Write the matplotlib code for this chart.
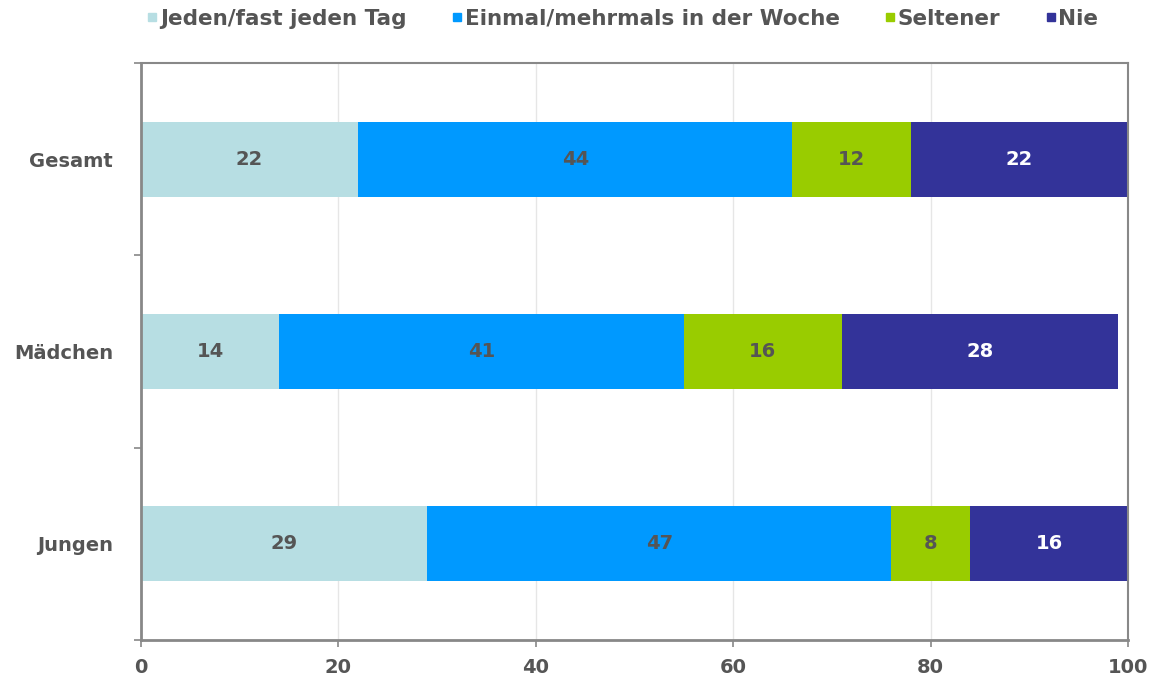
import matplotlib.pyplot as plt
from matplotlib.lines import Line2D

# data
groups = ["Gesamt", "Mädchen", "Jungen"]
series = ["Jeden/fast jeden Tag", "Einmal/mehrmals in der Woche", "Seltener", "Nie"]
jeden = [22, 14, 29]
woche = [44, 41, 47]
seltener = [12, 16, 8]
nie = [22, 28, 16]
x_ticks = [0, 20, 40, 60, 80, 100]

colors = ["#B7DEE3", "#0099FF", "#99CC00", "#333399"]
label_colors = ["#555555", "#555555", "#555555", "#FFFFFF"]
text_grey = "#555555"

fig = plt.figure(figsize=(11.51, 6.77), dpi=100)
ax = fig.add_axes([0.1225, 0.0547, 0.8575, 0.8523])

ypos = list(range(len(groups)))
left = [0] * len(groups)
for values, color, lc in zip([jeden, woche, seltener, nie], colors, label_colors):
    bars = ax.barh(ypos, values, left=left, height=0.39, color=color, zorder=2)
    for bar, v in zip(bars, values):
        ax.text(bar.get_x() + bar.get_width() / 2, bar.get_y() + bar.get_height() / 2,
                str(v), ha="center", va="center", fontsize=14, fontweight="bold",
                color=lc, zorder=3)
    left = [a + b for a, b in zip(left, values)]

ax.set_xlim(0, 100)
ax.set_ylim(len(groups) - 0.5, -0.5)
ax.set_xticks(x_ticks)
ax.set_xticklabels([str(t) for t in x_ticks], fontsize=14, fontweight="bold", color=text_grey)
ax.set_yticks(ypos)
ax.set_yticklabels(groups, fontsize=14, fontweight="bold", color=text_grey)
ax.tick_params(axis="y", which="major", length=0, pad=20)
ax.set_yticks([-0.5, 0.5, 1.5, 2.5], minor=True)
ax.tick_params(axis="y", which="minor", length=5, color="#888888", width=1.2)
ax.tick_params(axis="x", length=5, color="#888888", width=1.2, pad=8)

ax.grid(axis="x", color="#E6E6E6", linewidth=1, zorder=0)
for name, sp in ax.spines.items():
    sp.set_color("#888888")
    sp.set_linewidth(2 if name in ("left", "bottom") else 1.5)

handles = [Line2D([], [], marker="s", linestyle="none", markersize=6,
                  markerfacecolor=c, markeredgecolor=c) for c in colors]
leg = fig.legend(handles, series, loc="center", bbox_to_anchor=(0.541, 0.972),
                 ncol=4, frameon=False, handletextpad=0.1, columnspacing=2.1,
                 handlelength=0.5, borderpad=0, borderaxespad=0,
                 prop={"size": 15.5, "weight": "bold"})
for t in leg.get_texts():
    t.set_color(text_grey)

fig.savefig("out.png", dpi=100)
